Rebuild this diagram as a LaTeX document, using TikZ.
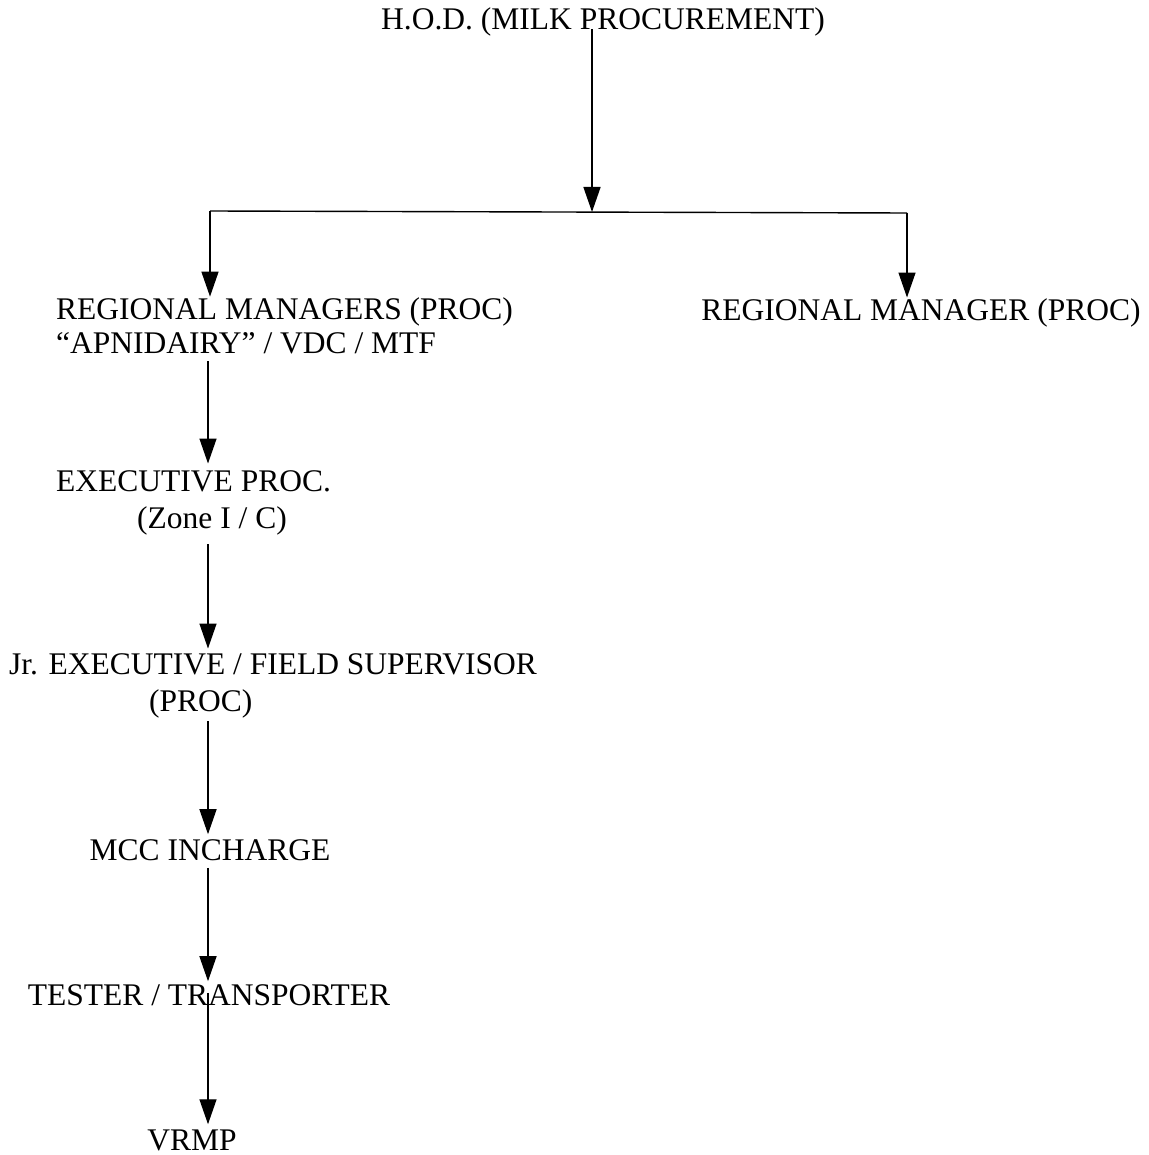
\documentclass[tikz,border=0pt]{standalone}
\usepackage{fontspec}
\setmainfont{Liberation Serif}
\usetikzlibrary{arrows.meta,positioning}

\begin{document}
\begin{tikzpicture}[x=1pt,y=-1pt,
  post/.style={font=\fontsize{31.5}{37}\selectfont, inner sep=1pt},
  link/.style={-{Triangle[width=17pt,length=25pt]}, line width=1.4pt}]
  \useasboundingbox (0,0) rectangle (1148,1155);

  % Head of milk procurement
  \node[post] (hod) at (603,22) {H.O.D. (MILK PROCUREMENT)};

  % Regional managers
  \node[post, align=left, anchor=west] (rmL) at (55,326)
    {REGIONAL MANAGERS (PROC)\\[-3pt]“APNIDAIRY” / VDC / MTF};
  \node[post] (rmR) at (921,313) {REGIONAL MANAGER (PROC)};

  % Left column of posts
  \node[post, align=left, anchor=west] (exec) at (55,503)
    {EXECUTIVE PROC.\\\hspace*{81pt}(Zone I / C)};
  \node[post, align=left, anchor=west] (jrexec) at (8,686)
    {Jr. EXECUTIVE / FIELD SUPERVISOR\\\hspace*{140pt}(PROC)};
  \node[post] (mcc) at (210,850) {MCC INCHARGE};
  \node[post] (tester) at (209,995) {TESTER / TRANSPORTER};
  \node[post] (vrmp) at (192,1140) {VRMP};

  % Fork below the head
  \coordinate (fork) at (592,212);
  \coordinate (lcol) at (208,0);
  \draw[link, shorten <=-8pt] (hod.south -| fork) -- (fork);
  \draw[line width=1.4pt] (210,211) -- (907,213);
  \draw[link] (210,211) -- (rmL.north -| 210,0);
  \draw[link] (907,213) -- (rmR.north -| 907,0);

  % Chain down the left column
  \draw[link, shorten <=6pt, shorten >=6pt] (rmL.south -| lcol) -- (exec.north -| lcol);
  \draw[link, shorten <=8pt, shorten >=4pt] (exec.south -| lcol) -- (jrexec.north -| lcol);
  \draw[link, shorten <=2pt, shorten >=4pt] (jrexec.south -| lcol) -- (mcc.north -| lcol);
  \draw[link, shorten <=6pt, shorten >=2pt] (mcc.south -| lcol) -- (tester.north -| lcol);
  \draw[link, shorten <=-14pt, shorten >=4pt] (tester.south -| lcol) -- (vrmp.north -| lcol);
\end{tikzpicture}
\end{document}
